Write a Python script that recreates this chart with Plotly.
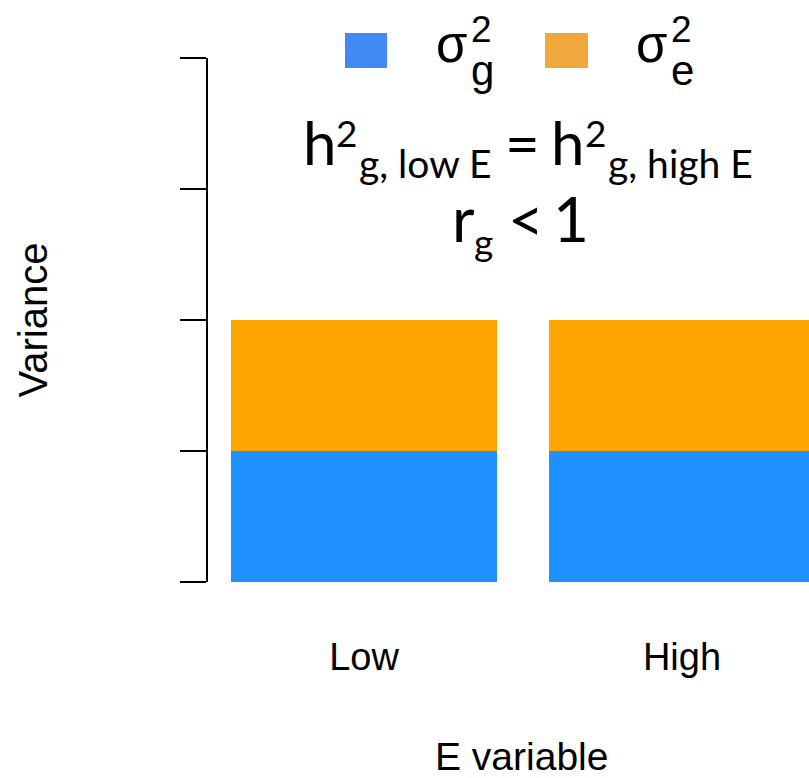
import plotly.graph_objects as go

# ---- data ----
categories = ["Low", "High"]
sigma_g = [1, 1]          # genetic variance (blue, bottom)
sigma_e = [1, 1]          # environmental variance (orange, top)
y_tick_vals = [0, 1, 2, 3, 4]
series_names = ["σ<sub>g</sub><sup>2</sup>", "σ<sub>e</sub><sup>2</sup>"]

BLUE = "#1E90FF"
ORANGE = "#FFA500"
LEG_BLUE = "#4289F5"
LEG_ORANGE = "#F0A83C"

W, H = 809, 778
L, T, R = 208, 58, 0
B = H - 582
PW, PH = W - L - R, H - T - B


def px(x, y):
    """pixel of the reference -> paper coordinates"""
    return (x - L) / PW, (H - B - y) / PH


fig = go.Figure()
fig.add_trace(go.Bar(x=list(range(len(categories))), y=sigma_g, name=series_names[0],
                     marker=dict(color=BLUE, line=dict(width=0)), width=0.8365,
                     showlegend=False))
fig.add_trace(go.Bar(x=list(range(len(categories))), y=sigma_e, name=series_names[1],
                     marker=dict(color=ORANGE, line=dict(width=0)), width=0.8365,
                     showlegend=False))

AX_FONT = "Liberation Sans, Arial, sans-serif"
TXT_FONT = "Lato, Carlito, Calibri, sans-serif"

fig.update_layout(
    width=W, height=H, barmode="stack",
    margin=dict(l=L, r=R, t=T, b=B, autoexpand=False),
    paper_bgcolor="white", plot_bgcolor="white",
    font=dict(family=AX_FONT, color="black"),
    xaxis=dict(range=[-0.4906, 1.3994], tickvals=[0, 1], ticktext=categories,
               showline=False, showgrid=False, zeroline=False,
               ticks="outside", ticklen=41, tickcolor="rgba(0,0,0,0)",
               tickfont=dict(size=38, family=AX_FONT)),
    yaxis=dict(range=[0, 4], tickvals=y_tick_vals, showticklabels=False,
               showline=True, linecolor="black", linewidth=2,
               ticks="outside", ticklen=26, tickwidth=2, tickcolor="black",
               showgrid=False, zeroline=False,
               title=dict(text="Variance", font=dict(size=40, family=AX_FONT), standoff=120)),
)

anns = []


def frag(text, left, baseline, size, family, asc_off):
    x, y = px(left - 1, baseline - asc_off * size)
    anns.append(dict(text=text, x=x, y=y, xref="paper", yref="paper",
                     xanchor="left", yanchor="middle", showarrow=False, borderpad=0,
                     font=dict(size=size, family=family, color="black")))


LAT = 0.387
LIB = 0.3465
# heritability equation line
frag("h", 303, 165, 60, TXT_FONT, LAT)
frag("2", 336, 147, 37, TXT_FONT, LAT)
frag("g, low E", 359, 178, 39, TXT_FONT, LAT)
frag("=", 505, 165, 60, TXT_FONT, LAT)
frag("h", 551, 165, 60, TXT_FONT, LAT)
frag("2", 585, 147, 37, TXT_FONT, LAT)
frag("g, high E", 608, 178, 39, TXT_FONT, LAT)
# genetic correlation line
frag("r", 452, 242, 62, TXT_FONT, LAT)
frag("g", 474, 256, 37, TXT_FONT, LAT)
frag("<", 508, 242, 62, TXT_FONT, LAT)
frag("1", 553, 242, 62, TXT_FONT, LAT)

# x-axis title
tx, ty = px(521, 756)
anns.append(dict(text="E variable", x=tx, y=ty, xref="paper", yref="paper",
                 xanchor="center", yanchor="middle", showarrow=False,
                 font=dict(size=39, family=AX_FONT, color="black")))

# legend
shapes = []
for (x0, x1), col in [((345, 387), LEG_BLUE), ((545, 588), LEG_ORANGE)]:
    a0, b0 = px(x0, 68)
    a1, b1 = px(x1, 33)
    shapes.append(dict(type="rect", xref="paper", yref="paper", x0=a0, x1=a1, y0=b0, y1=b1,
                       fillcolor=col, line=dict(width=0)))
for left, sub in [(436, "g"), (636, "e")]:
    frag("σ", left, 62, 51, AX_FONT, LIB)
    frag("2", left + 35, 42, 37, AX_FONT, LIB)
    frag(sub, left + 35, 85, 42, AX_FONT, LIB)

fig.update_layout(annotations=anns, shapes=shapes)
fig.write_html("out.html",
               config={"displayModeBar": False},
               post_script="document.body.style.margin='0';"
                           "document.body.style.overflow='hidden';")
